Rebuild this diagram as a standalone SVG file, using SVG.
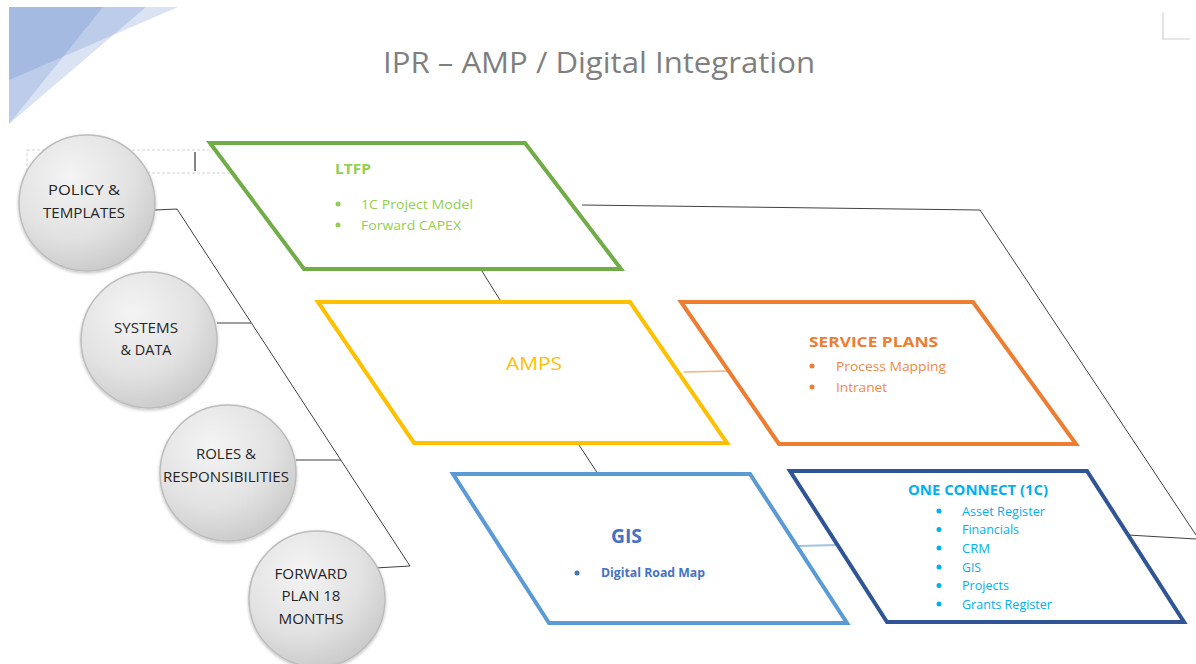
<svg xmlns="http://www.w3.org/2000/svg" width="1196" height="664" viewBox="0 0 1196 664">
  <defs>
    <radialGradient id="ball" cx="0.38" cy="0.3" r="0.75">
      <stop offset="0" stop-color="#f4f4f4"/>
      <stop offset="0.6" stop-color="#e2e2e2"/>
      <stop offset="1" stop-color="#c9c9c9"/>
    </radialGradient>
    <filter id="shade" x="-20%" y="-20%" width="140%" height="140%">
      <feDropShadow dx="0" dy="1.5" stdDeviation="1.5" flood-color="#000" flood-opacity="0.25"/>
    </filter>
    <style>
      .title { font-family: "Open Sans", "Liberation Sans", sans-serif; font-size: 30px; fill: #7f7f7f; }
      .circle { fill: url(#ball); stroke: #bcbcbc; stroke-width: 1.5; filter: url(#shade); }
      .ctext { font-family: "Open Sans", "Liberation Sans", sans-serif; font-size: 14px; fill: #262626; text-anchor: middle; }
      .box { fill: #ffffff; stroke-width: 4; stroke-linejoin: miter; }
      .lbl { font-family: "Open Sans", "Liberation Sans", sans-serif; }
      .b { font-weight: bold; }
      .wire { fill: none; stroke: #404040; stroke-width: 1; }
    </style>
  </defs>

  <rect width="1196" height="664" fill="#ffffff"/>

  <!-- corner decoration -->
  <g id="corner-triangles">
    <polygon points="9,7 178,7 9,80" fill="#4472c4" fill-opacity="0.2"/>
    <polygon points="9,7 103,7 9,124" fill="#4472c4" fill-opacity="0.2"/>
    <polygon points="9,7 146,7 9,124" fill="#4472c4" fill-opacity="0.2"/>
  </g>
  <path d="M1163,13 V39 H1190" fill="none" stroke="#d0d0d0" stroke-width="1.2"/>

  <text class="title" x="599" y="73" text-anchor="middle" textLength="432" lengthAdjust="spacingAndGlyphs">IPR – AMP / Digital Integration</text>

  <!-- placeholder frame and caret -->
  <rect x="27" y="150" width="210" height="23" fill="none" stroke="#c8c8c8" stroke-width="0.8" stroke-dasharray="3,2"/>
  <line x1="195" y1="152" x2="195" y2="171" stroke="#333" stroke-width="1.2"/>

  <!-- connectors -->
  <g id="connectors">
    <polyline class="wire" points="155,210 177,209 410,566 375,568"/>
    <line class="wire" x1="217" y1="323" x2="251" y2="323"/>
    <line class="wire" x1="296" y1="460" x2="341" y2="460" stroke="#808080"/>
    <polyline class="wire" points="582,205 980,210 1196,535"/>
    <line class="wire" x1="1128" y1="535" x2="1196" y2="539"/>
    <line class="wire" x1="480" y1="268" x2="500" y2="300"/>
    <line class="wire" x1="579" y1="445" x2="598" y2="474"/>
    <line x1="684" y1="372" x2="729" y2="371" stroke="#f4b183" stroke-width="1.5"/>
    <line x1="798" y1="546" x2="837" y2="545" stroke="#9dc3e6" stroke-width="2"/>
  </g>

  <!-- left column -->
  <g id="policy">
    <circle class="circle" cx="87" cy="203" r="68"/>
    <text class="ctext" x="84" y="195" textLength="72" lengthAdjust="spacingAndGlyphs">POLICY &amp;</text>
    <text class="ctext" x="84" y="218" textLength="82" lengthAdjust="spacingAndGlyphs">TEMPLATES</text>
  </g>
  <g id="systems">
    <circle class="circle" cx="149" cy="340" r="68"/>
    <text class="ctext" x="146" y="333" textLength="64" lengthAdjust="spacingAndGlyphs">SYSTEMS</text>
    <text class="ctext" x="146" y="355" textLength="51" lengthAdjust="spacingAndGlyphs">&amp; DATA</text>
  </g>
  <g id="roles">
    <circle class="circle" cx="228" cy="473" r="68"/>
    <text class="ctext" x="226" y="459" textLength="60" lengthAdjust="spacingAndGlyphs">ROLES &amp;</text>
    <text class="ctext" x="226" y="482" textLength="126" lengthAdjust="spacingAndGlyphs">RESPONSIBILITIES</text>
  </g>
  <g id="forward-plan">
    <circle class="circle" cx="317" cy="599" r="68"/>
    <text class="ctext" x="311" y="579" textLength="73" lengthAdjust="spacingAndGlyphs">FORWARD</text>
    <text class="ctext" x="311" y="601" textLength="59" lengthAdjust="spacingAndGlyphs">PLAN 18</text>
    <text class="ctext" x="311" y="624" textLength="65" lengthAdjust="spacingAndGlyphs">MONTHS</text>
  </g>

  <!-- LTFP -->
  <g id="ltfp">
    <polygon class="box" points="210,143 525,143 621,269 304,269" stroke="#70ad47"/>
    <g class="lbl" fill="#92d050">
      <text class="b" x="335" y="173.5" font-size="15" textLength="36" lengthAdjust="spacingAndGlyphs">LTFP</text>
      <circle cx="338" cy="204" r="2.5"/>
      <circle cx="338" cy="225" r="2.5"/>
      <text x="361" y="208.5" font-size="13" textLength="112" lengthAdjust="spacingAndGlyphs">1C Project Model</text>
      <text x="361" y="229.5" font-size="13" textLength="100" lengthAdjust="spacingAndGlyphs">Forward CAPEX</text>
    </g>
  </g>

  <!-- AMPS -->
  <g id="amps">
    <polygon class="box" points="318,302 630,302 727,443 414,443" stroke="#ffc000"/>
    <text class="lbl" x="506" y="370" font-size="19" fill="#ffc000" textLength="56" lengthAdjust="spacingAndGlyphs">AMPS</text>
  </g>

  <!-- Service plans -->
  <g id="service-plans">
    <polygon class="box" points="681,302 973,302 1076,444 779,444" stroke="#ed7d31"/>
    <g class="lbl" fill="#ed7d31">
      <text class="b" x="809" y="346.5" font-size="15" textLength="129" lengthAdjust="spacingAndGlyphs">SERVICE PLANS</text>
      <circle cx="812" cy="366" r="2.5"/>
      <circle cx="812" cy="387" r="2.5"/>
      <text x="836" y="370.5" font-size="13" fill="#ef8a48" textLength="110" lengthAdjust="spacingAndGlyphs">Process Mapping</text>
      <text x="836" y="391.5" font-size="13" fill="#ef8a48" textLength="51" lengthAdjust="spacingAndGlyphs">Intranet</text>
    </g>
  </g>

  <!-- GIS -->
  <g id="gis">
    <polygon class="box" points="453,474 750,474 847,623 549,623" stroke="#5b9bd5" stroke-width="3.5"/>
    <g class="lbl b" fill="#4472c4">
      <text x="611" y="543" font-size="20" textLength="31" lengthAdjust="spacingAndGlyphs">GIS</text>
      <circle cx="577" cy="573" r="2.5"/>
      <text x="601" y="576.5" font-size="12.5" textLength="104" lengthAdjust="spacingAndGlyphs">Digital Road Map</text>
    </g>
  </g>

  <!-- One Connect -->
  <g id="one-connect">
    <polygon class="box" points="790,471 1087,471 1184,622 887,622" stroke="#2f5597"/>
    <g class="lbl" fill="#00b0f0" font-size="12.5">
      <text class="b" x="908" y="495" font-size="14.5" textLength="140" lengthAdjust="spacingAndGlyphs">ONE CONNECT (1C)</text>
      <circle cx="939" cy="511" r="2.5"/>
      <circle cx="939" cy="529.5" r="2.5"/>
      <circle cx="939" cy="548" r="2.5"/>
      <circle cx="939" cy="567" r="2.5"/>
      <circle cx="939" cy="585.5" r="2.5"/>
      <circle cx="939" cy="604" r="2.5"/>
      <text x="962" y="515.5" textLength="83" lengthAdjust="spacingAndGlyphs">Asset Register</text>
      <text x="962" y="534" textLength="57" lengthAdjust="spacingAndGlyphs">Financials</text>
      <text x="962" y="552.5" textLength="28" lengthAdjust="spacingAndGlyphs">CRM</text>
      <text x="962" y="571.5" textLength="19" lengthAdjust="spacingAndGlyphs">GIS</text>
      <text x="962" y="590" textLength="47" lengthAdjust="spacingAndGlyphs">Projects</text>
      <text x="962" y="608.5" textLength="90" lengthAdjust="spacingAndGlyphs">Grants Register</text>
    </g>
  </g>
</svg>
